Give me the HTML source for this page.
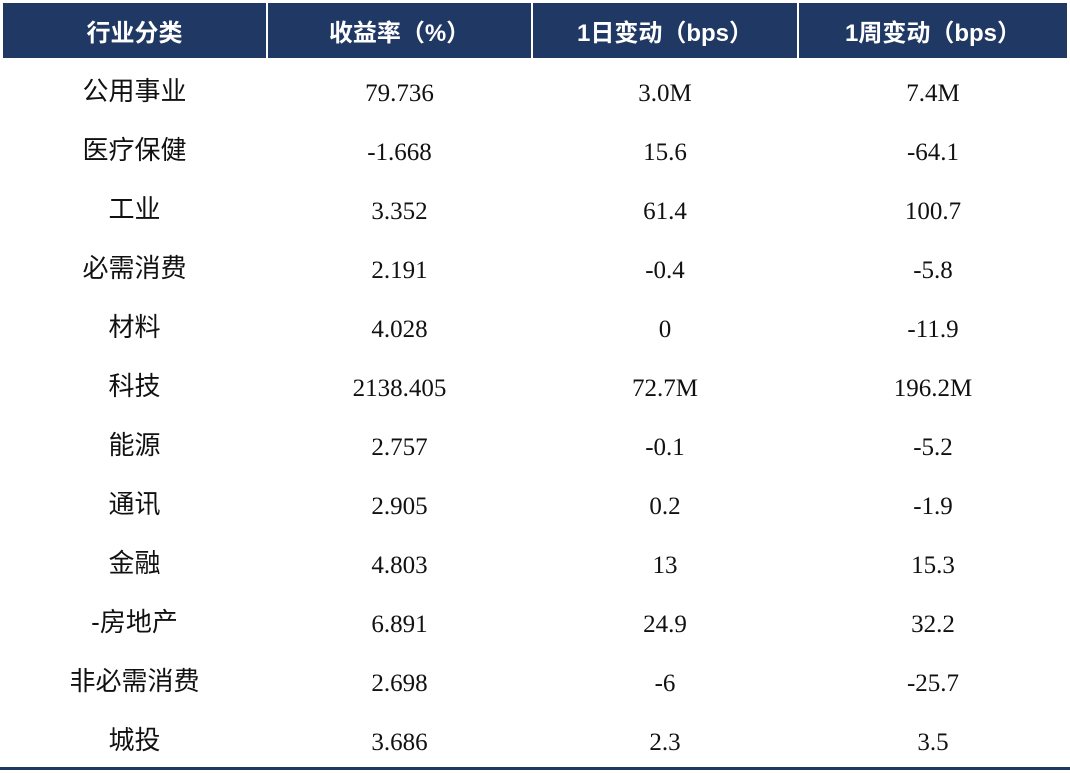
<!DOCTYPE html>
<html><head><meta charset="utf-8"><style>
html,body{margin:0;padding:0;background:#fff;width:1070px;height:773px;overflow:hidden}
.hdr{position:absolute;top:3px;height:55px;background:#203864;color:#fff;font:bold 24px "Liberation Sans","Noto Sans CJK SC",sans-serif;display:flex;align-items:center;justify-content:center}
.row{position:absolute;left:0;width:1070px;height:59px}
.c{position:absolute;top:0;height:59px;text-align:center;font:25px "Liberation Serif","Noto Serif CJK SC",serif;line-height:59px;color:#111}
.c.n{font-family:"Liberation Sans","Noto Sans CJK SC",sans-serif;font-size:26px;line-height:59px}
</style></head><body>
<div class="hdr" style="left:3px;width:263px">行业分类</div>
<div class="hdr" style="left:268px;width:263px">收益率（%）</div>
<div class="hdr" style="left:533px;width:264px">1日变动（bps）</div>
<div class="hdr" style="left:799px;width:268px">1周变动（bps）</div>
<div id="rows"></div>
<div style="position:absolute;left:0;top:767px;width:1070px;height:3px;background:#203864"></div>
<script>
const d=[["公用事业","79.736","3.0M","7.4M"],["医疗保健","-1.668","15.6","-64.1"],["工业","3.352","61.4","100.7"],["必需消费","2.191","-0.4","-5.8"],["材料","4.028","0","-11.9"],["科技","2138.405","72.7M","196.2M"],["能源","2.757","-0.1","-5.2"],["通讯","2.905","0.2","-1.9"],["金融","4.803","13","15.3"],["-房地产","6.891","24.9","32.2"],["非必需消费","2.698","-6","-25.7"],["城投","3.686","2.3","3.5"]];
const L=[[3,263],[268,263],[533,264],[799,268]];
let h="";d.forEach((r,i)=>{h+=`<div class="row" style="top:${62+i*59}px">`;r.forEach((v,j)=>{h+=`<div class="c${j==0?' n':''}" style="left:${L[j][0]}px;width:${L[j][1]}px;${j>0?'top:2px':''}">${v}</div>`});h+="</div>"});
document.getElementById("rows").innerHTML=h;
</script>
</body></html>
